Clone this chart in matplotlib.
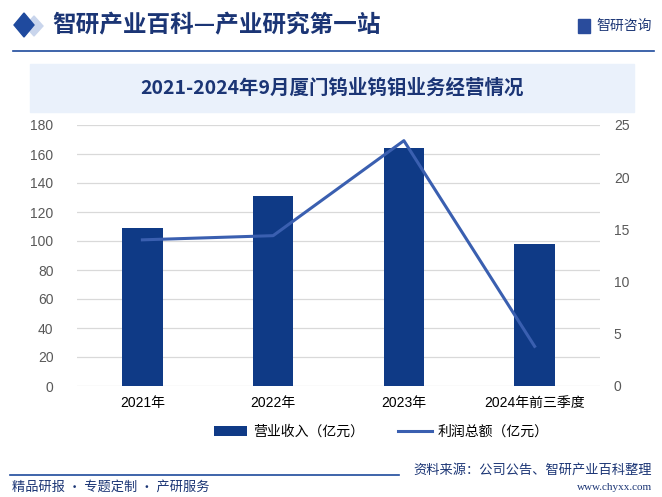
import matplotlib
matplotlib.use('Agg')
from matplotlib import pyplot as plt
from matplotlib.patches import Rectangle, Polygon
from matplotlib.lines import Line2D

plt.rcParams['font.family'] = ['Liberation Sans', 'Noto Sans CJK SC', 'DejaVu Sans']

categories = ['2021年', '2022年', '2023年', '2024年前三季度']
revenue = [108.8, 131.0, 164.3, 97.9]
profit = [14.0, 14.4, 23.5, 3.8]
left_ticks = [0, 20, 40, 60, 80, 100, 120, 140, 160, 180]
right_ticks = [0, 5, 10, 15, 20, 25]

navy = '#0f3a86'
line_blue = '#3a5fb0'
dark = '#1b3575'

fig = plt.figure(figsize=(6.62, 4.97), dpi=100)
W, H = 662, 497

def fx(x):
    return x / W

def fy(y):
    return 1 - y / H

# header
fig.patches.append(Polygon([[fx(25), fy(26)], [fx(34), fy(16)], [fx(43), fy(26)], [fx(34), fy(36)]],
                           closed=True, transform=fig.transFigure, color='#c9d5ec'))
fig.patches.append(Polygon([[fx(14), fy(25)], [fx(24), fy(13)], [fx(34), fy(25)], [fx(24), fy(37)]],
                           closed=True, transform=fig.transFigure, color='#1f4a9e'))
fig.text(fx(52), fy(25), '智研产业百科—产业研究第一站', fontsize=17, fontweight='bold',
         color=dark, va='center', ha='left', family=['Noto Sans CJK SC'])
fig.text(fx(652), fy(26), '智研咨询', fontsize=10, color='#1b3575', va='center', ha='right',
         family=['Noto Sans CJK SC'])
fig.patches.append(Rectangle((fx(578), fy(33)), fx(12), 14 / H, transform=fig.transFigure,
                             color='#2a4c9c'))
fig.lines.append(Line2D([fx(13), fx(654)], [fy(50.5), fy(50.5)], transform=fig.transFigure,
                        color='#1e4a9c', lw=1.2))

# title box
fig.patches.append(Rectangle((fx(30), fy(112)), fx(604), 48 / H, transform=fig.transFigure,
                             color='#eaf1fb'))
fig.text(fx(332), fy(88), '2021-2024年9月厦门钨业钨钼业务经营情况', fontsize=14, fontweight='bold',
         color=dark, va='center', ha='center', family=['Noto Sans CJK SC'])

# chart
ax = fig.add_axes([fx(77), fy(386), fx(600 - 77), (386 - 125) / H])
x = range(len(categories))
bars = ax.bar(x, revenue, width=0.31, color=navy, zorder=2, label='营业收入（亿元）')
ax.set_ylim(0, 180)
ax.set_xlim(-0.5, 3.5)
ax.set_yticks(left_ticks)
ax.grid(axis='y', color='#d9d9d9', lw=0.9, zorder=0)
ax.set_axisbelow(True)
for s in ax.spines.values():
    s.set_visible(False)
ax.tick_params(axis='y', length=0, labelcolor='#595959', labelsize=10, pad=17)
ax.tick_params(axis='x', length=0, labelsize=10, pad=7)
ax.set_xticks(list(x))
ax.set_xticklabels(categories)

ax2 = ax.twinx()
ln, = ax2.plot(list(x), profit, color=line_blue, lw=2.2, zorder=3, label='利润总额（亿元）')
ax2.set_ylim(0, 25)
ax2.set_yticks(right_ticks)
for s in ax2.spines.values():
    s.set_visible(False)
ax2.tick_params(axis='y', length=0, labelcolor='#595959', labelsize=10, pad=10)

fig.legend([bars, ln], ['营业收入（亿元）', '利润总额（亿元）'], loc='center',
           bbox_to_anchor=(fx(381), fy(432)), ncol=2, frameon=False, fontsize=10,
           handlelength=2.4, columnspacing=2.5, handletextpad=0.4)

# footer
fig.lines.append(Line2D([fx(10), fx(399)], [fy(475), fy(475)], transform=fig.transFigure,
                        color='#1e4a9c', lw=1.2))
fig.text(fx(12), fy(487), '精品研报 · 专题定制 · 产研服务', fontsize=9.5, color=dark,
         va='center', ha='left', family=['Noto Sans CJK SC'])
fig.text(fx(652), fy(470), '资料来源：公司公告、智研产业百科整理', fontsize=9.5, color=dark,
         va='center', ha='right', family=['Noto Sans CJK SC'])
fig.text(fx(652), fy(488), 'www.chyxx.com', fontsize=8, color=dark,
         va='center', ha='right', family=['Liberation Serif'])

fig.savefig('out.png', dpi=100)
